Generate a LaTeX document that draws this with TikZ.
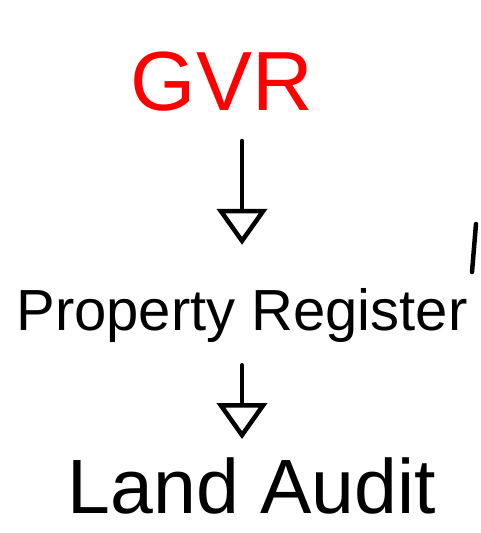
\documentclass[tikz,border=0pt]{standalone}
\usepackage{fontspec}
\setmainfont{Liberation Sans}
\usetikzlibrary{arrows.meta}

\tikzset{
  word/.style={inner sep=0pt, anchor=base},
  flow/.style={-{Triangle[open,length=36pt,width=50pt,line width=4.5pt]},
    line width=4.5pt, line cap=round}
}

\begin{document}
\begin{tikzpicture}[x=1pt,y=-1pt]
  \useasboundingbox (0,0) rectangle (480,533);
  \node[word, text=red, font=\fontsize{84}{86}\selectfont] (gvr) at (222,110) {GVR};
  \node[word, font=\fontsize{58}{60}\selectfont] (prop) at (242,330) {Property Register};
  \node[word, font=\fontsize{77}{79}\selectfont] (land) at (252,513) {Land Audit};
  \draw[flow, shorten <=30pt, shorten >=43pt] (gvr.south -| prop.north) -- (prop.north);
  \draw[flow, shorten <=23pt, shorten >=18pt] (prop.south) -- (land.north -| prop.south);
  % stray stroke at the right edge
  \draw[line width=4.5pt, line cap=round] (476,224) -- (472,272);
\end{tikzpicture}
\end{document}
